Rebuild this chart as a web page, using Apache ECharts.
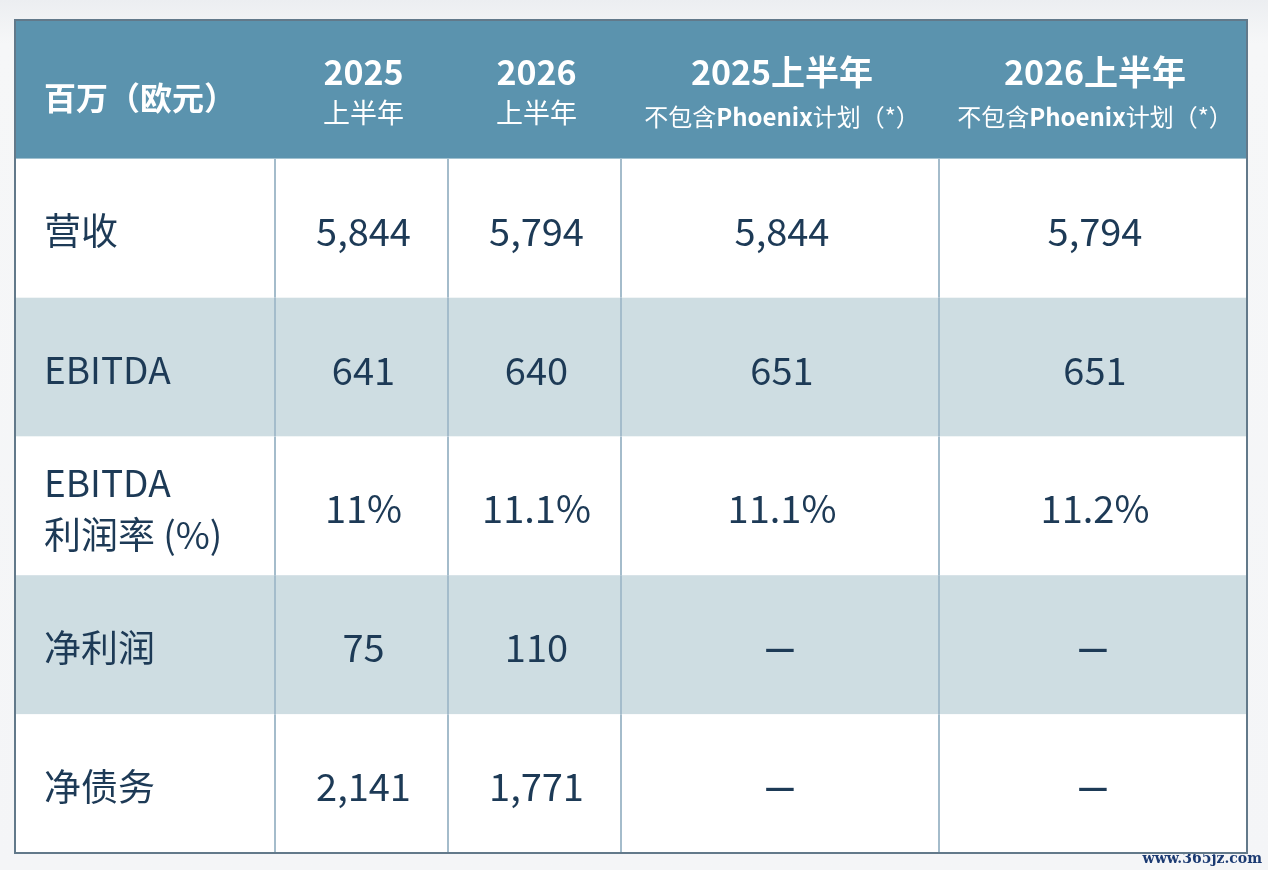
<!DOCTYPE html>
<html>
<head>
<meta charset="utf-8">
<script src="https://cdn.jsdelivr.net/npm/echarts@6/dist/echarts.min.js"></script>
<style>
  html, body { margin: 0; padding: 0; background: #f3f4f6; }
  #chartTable { width: 1268px; height: 870px; }
</style>
</head>
<body>
<div id="chartTable"></div>
<script>
// table data, one list per column
var rowLabels = ['营收', 'EBITDA', 'EBITDA\n利润率 (%)', '净利润', '净债务'];
var headCorner = '百万（欧元）';
var headYears = ['2025', '2026', '2025上半年', '2026上半年'];
var headSubs = ['上半年', '上半年', '不包含Phoenix计划（*）', '不包含Phoenix计划（*）'];
var h1_2025 = ['5,844', '641', '11%', '75', '2,141'];
var h1_2026 = ['5,794', '640', '11.1%', '110', '1,771'];
var h1_2025_exPhoenix = ['5,844', '651', '11.1%', '—', '—'];
var h1_2026_exPhoenix = ['5,794', '651', '11.2%', '—', '—'];

// column edges in table width units (layout only)
var colEdges = [0, 260, 433, 606, 924, 1232];
var rowBg = ['#5b93ae', '#ffffff', '#cedde2', '#ffffff', '#cedde2', '#ffffff'];
var ink = '#1d3a56';
var font = '"Noto Sans CJK SC", "Noto Sans", sans-serif';

var valueCols = [h1_2025, h1_2026, h1_2025_exPhoenix, h1_2026_exPhoenix];
var cells = [];
var cellData = [];
for (var r = 0; r <= rowLabels.length; r++) {
  for (var c = 0; c < colEdges.length - 1; c++) {
    var t;
    if (r === 0) t = c === 0 ? headCorner : (headYears[c - 1] + '\n' + headSubs[c - 1]);
    else t = c === 0 ? rowLabels[r - 1] : valueCols[c - 1][r - 1];
    cells.push(t);
    cellData.push([c, r]);
  }
}

function headText(c) {
  if (c < 3) return '{y|' + headYears[c - 1] + '}\n{s|' + headSubs[c - 1] + '}';
  var parts = headSubs[c - 1].split('Phoenix');
  return '{y|' + headYears[c - 1] + '}\n{s|' + parts[0] + '}{p|Phoenix}{s|' + parts[1] + '}';
}

function renderCell(params, api) {
  var c = api.value(0), r = api.value(1);
  var p0 = api.coord([colEdges[c], r]);
  var p1 = api.coord([colEdges[c + 1], r]);
  var h = api.size([0, 1])[1];
  var x0 = p0[0], x1 = p1[0], yc = p0[1], y0 = yc - h / 2;
  var kids = [{
    type: 'rect',
    shape: { x: x0, y: y0, width: x1 - x0, height: h },
    style: { fill: rowBg[r] }
  }];
  if (c > 0 && r > 0) {
    kids.push({
      type: 'line',
      shape: { x1: x0, y1: y0, x2: x0, y2: y0 + h },
      style: { stroke: '#a4bccb', lineWidth: 2 }
    });
  }
  var txt = cells[params.dataIndex];
  if (r === 0 && c === 0) {
    kids.push({ type: 'text', style: { text: txt, x: x0 + 29, y: yc + 8, fill: '#ffffff',
      font: 'bold 32px ' + font, align: 'left', verticalAlign: 'middle' } });
  } else if (r === 0) {
    var big = c >= 3;
    kids.push({ type: 'text', style: {
      text: headText(c), x: (x0 + x1) / 2 + 2, y: yc + (big ? 5 : 3),
      align: 'center', verticalAlign: 'middle', fill: '#ffffff',
      rich: {
        y: { fontFamily: font, fontWeight: 'bold', fontSize: 34, fill: '#ffffff', lineHeight: big ? 44 : 41 },
        s: { fontFamily: font, fontSize: big ? 24 : 27, fill: '#ffffff', lineHeight: big ? 44 : 41 },
        p: { fontFamily: font, fontWeight: 'bold', fontSize: 24, fill: '#ffffff', lineHeight: 44 }
      }
    } });
  } else if (c === 0) {
    kids.push({ type: 'text', style: { text: txt, x: x0 + 29, y: yc + 3, fill: ink,
      fontFamily: font, fontSize: 37, lineHeight: 52, align: 'left', verticalAlign: 'middle' } });
  } else if (txt === '—') {
    kids.push({ type: 'text', style: { text: txt, x: (x0 + x1) / 2, y: yc + 2, fill: ink,
      fontFamily: font, fontWeight: 'bold', fontSize: 34, align: 'center', verticalAlign: 'middle' } });
  } else {
    kids.push({ type: 'text', style: { text: txt, x: (x0 + x1) / 2 + 2, y: yc + 3, fill: ink,
      fontFamily: font, fontSize: 38, align: 'center', verticalAlign: 'middle' } });
  }
  return { type: 'group', children: kids };
}

var chart_table = echarts.init(document.getElementById('chartTable'));

chart_table.setOption({
  backgroundColor: {
    type: 'linear', x: 0, y: 0, x2: 0, y2: 1,
    colorStops: [{ offset: 0, color: '#eceef1' }, { offset: 0.05, color: '#f6f7f8' }, { offset: 1, color: '#f4f5f7' }]
  },
  animation: false,
  grid: { left: 15, right: 21, top: 20, bottom: 17 },
  xAxis: { type: 'value', min: 0, max: colEdges[colEdges.length - 1], show: false },
  yAxis: { type: 'category', data: ['head', '1', '2', '3', '4', '5'], inverse: true, show: false },
  graphic: [{
    type: 'text', right: 6, bottom: 4,
    style: { text: 'www.365jz.com', fill: '#1b3a72', font: 'bold 14px "DejaVu Serif", serif' }
  }],
  series: [
    {
      name: 'cells',
      type: 'custom',
      renderItem: renderCell,
      data: cellData,
      silent: true
    },
    {
      name: 'frame',
      type: 'custom',
      z: 5,
      silent: true,
      data: [[0, 0]],
      renderItem: function (params) {
        var cs = params.coordSys;
        return { type: 'rect', shape: { x: cs.x, y: cs.y, width: cs.width, height: cs.height },
          style: { fill: null, stroke: '#62798a', lineWidth: 2 } };
      }
    }
  ]
});
</script>
</body>
</html>
